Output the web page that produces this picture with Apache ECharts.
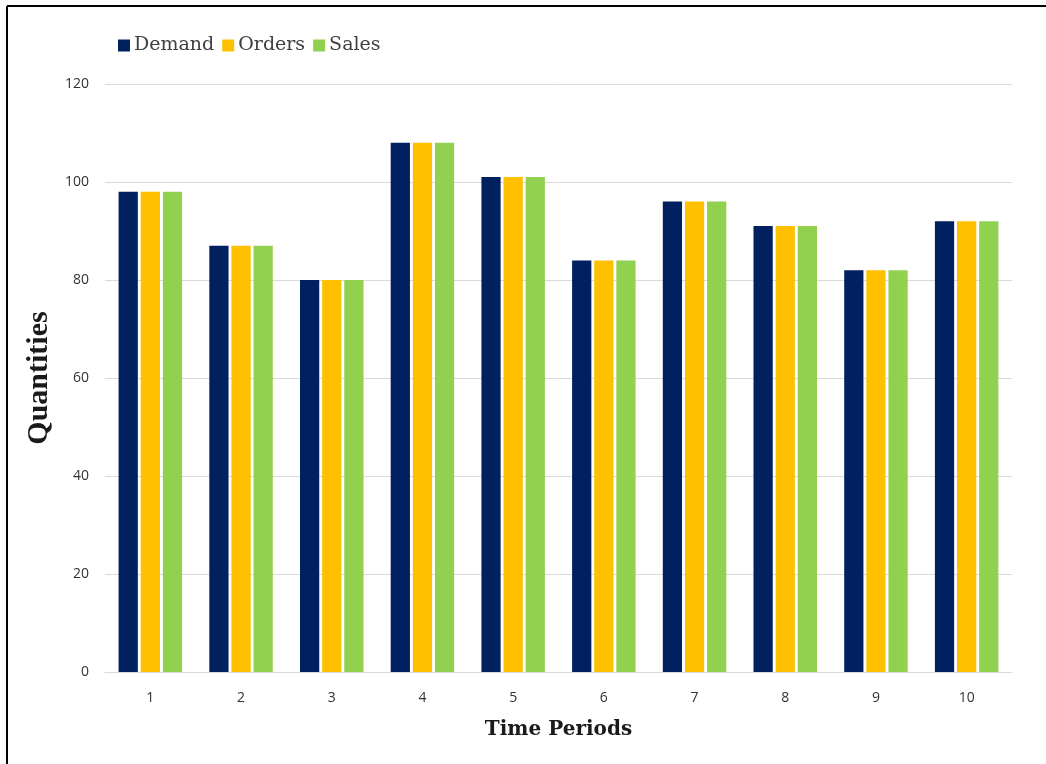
<!DOCTYPE html>
<html>
<head>
<meta charset="utf-8">
<script src="https://cdn.jsdelivr.net/npm/echarts@6/dist/echarts.min.js"></script>
<style>
html,body{margin:0;padding:0;background:#fff;}
#chart{width:1046px;height:764px;}
</style>
</head>
<body>
<div id="chart"></div>
<script>
const categories = ['1','2','3','4','5','6','7','8','9','10'];
const demand = [98, 87, 80, 108, 101, 84, 96, 91, 82, 92];
const orders = [98, 87, 80, 108, 101, 84, 96, 91, 82, 92];
const sales  = [98, 87, 80, 108, 101, 84, 96, 91, 82, 92];
const seriesNames = ['Demand', 'Orders', 'Sales'];
const colors = ['#002060', '#FFC000', '#92D050'];

const chart = echarts.init(document.getElementById('chart'));
const mk = (name, data, color) => ({
  name: name, type: 'bar', data: data,
  itemStyle: { color: color },
  barGap: '15%', barCategoryGap: '30%'
});

chart.setOption({
  backgroundColor: '#ffffff',
  animation: false,
  legend: {
    left: 113, top: 31,
    itemWidth: 12, itemHeight: 12, itemGap: 8,
    icon: 'rect',
    textStyle: { fontFamily: 'DejaVu Serif', fontSize: 19, color: '#404040', padding: [0,0,0,-1] },
    data: seriesNames
  },
  grid: { left: 105, right: 34, top: 84, bottom: 92, containLabel: false },
  xAxis: {
    type: 'category', data: categories,
    name: 'Time Periods', nameLocation: 'middle', nameGap: 48,
    nameTextStyle: { fontFamily: 'DejaVu Serif', fontWeight: 'bold', fontSize: 20, color: '#1a1a1a' },
    axisLine: { lineStyle: { color: '#d9d9d9', width: 1 } },
    axisTick: { show: false },
    axisLabel: { fontFamily: 'Open Sans', fontSize: 14, color: '#333333', margin: 19 }
  },
  yAxis: {
    type: 'value', min: 0, max: 120, interval: 20,
    name: 'Quantities', nameLocation: 'middle', nameGap: 50,
    nameTextStyle: { fontFamily: 'Liberation Serif', fontWeight: 'bold', fontSize: 30, color: '#1a1a1a' },
    axisLine: { show: false },
    axisTick: { show: false },
    axisLabel: { fontFamily: 'Open Sans', fontSize: 14, color: '#333333', margin: 16 },
    splitLine: { lineStyle: { color: '#d9d9d9', width: 1 } }
  },
  series: [
    mk(seriesNames[0], demand, colors[0]),
    mk(seriesNames[1], orders, colors[1]),
    mk(seriesNames[2], sales, colors[2])
  ],
  graphic: [
    { type: 'line', shape: { x1: 7, y1: 6, x2: 1046, y2: 6 }, style: { stroke: '#000', lineWidth: 2 }, z: 100 },
    { type: 'line', shape: { x1: 7, y1: 6, x2: 7, y2: 764 }, style: { stroke: '#000', lineWidth: 2 }, z: 100 }
  ]
});
</script>
</body>
</html>
